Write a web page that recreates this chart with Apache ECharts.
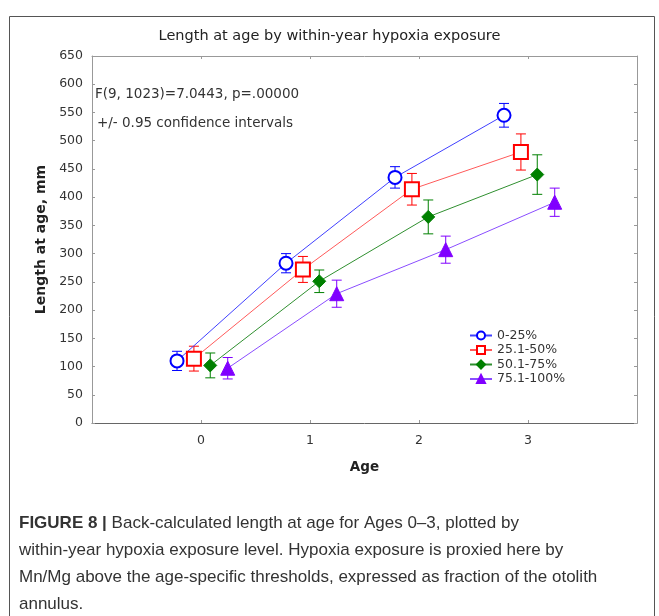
<!DOCTYPE html>
<html>
<head>
<meta charset="utf-8">
<script src="https://cdn.jsdelivr.net/npm/echarts@6/dist/echarts.min.js"></script>
<style>
html,body{margin:0;padding:0;background:#fff;}
#chart{width:659px;height:616px;}
</style>
</head>
<body>
<div id="chart"></div>
<script>
// data
const ages = [0, 1, 2, 3];
const groups = ['0-25%', '25.1-50%', '50.1-75%', '75.1-100%'];
const dodge = [-0.22, -0.065, 0.085, 0.245];
const meanLength = [
  [110, 283, 435, 545],
  [114, 272, 414, 480],
  [102, 251, 365, 440],
  [97, 229, 307, 391]
];
const ciHalf = [
  [17, 17, 19, 21],
  [22, 23, 28, 32],
  [22, 20, 30, 35],
  [19, 24, 24, 25]
];
const yTicks = [0, 650, 50];

const colors = ['#0000ff', '#ff0000', '#008000', '#8000ff'];
const lineColors = ['#4040ff', '#ff5a5a', '#2f8f2f', '#8a4dff'];
const symbols = ['emptyCircle', 'emptyRect', 'diamond', 'triangle'];
const symbolSizes = [13, 14, 13, 14];
const FONT = 'DejaVu Sans';

let chart = echarts.init(document.getElementById('chart'));

let series = [];
groups.forEach((g, i) => {
  // confidence interval whiskers
  series.push({
    name: g + ' CI',
    type: 'custom',
    silent: true,
    z: 2,
    renderItem: (params, api) => {
      let x = api.value(0);
      let top = api.coord([x, api.value(2)]);
      let bot = api.coord([x, api.value(1)]);
      let w = 5;
      let st = {stroke: colors[i], lineWidth: 1};
      return {
        type: 'group',
        children: [
          {type: 'line', shape: {x1: top[0], y1: top[1], x2: bot[0], y2: bot[1]}, style: st},
          {type: 'line', shape: {x1: top[0] - w, y1: top[1], x2: top[0] + w, y2: top[1]}, style: st},
          {type: 'line', shape: {x1: bot[0] - w, y1: bot[1], x2: bot[0] + w, y2: bot[1]}, style: st}
        ]
      };
    },
    data: ages.map((a, k) => [a + dodge[i], meanLength[i][k] - ciHalf[i][k], meanLength[i][k] + ciHalf[i][k]])
  });
  series.push({
    name: g,
    type: 'line',
    z: 3,
    symbol: symbols[i],
    symbolSize: symbolSizes[i],
    showAllSymbol: true,
    lineStyle: {color: lineColors[i], width: 1},
    itemStyle: {color: colors[i], borderColor: colors[i], borderWidth: i < 2 ? 3 : 1},
    data: ages.map((a, k) => [a + dodge[i], meanLength[i][k]])
  });
});

let axisTxt = {color: '#333', fontSize: 12.5, fontFamily: FONT};

let option = {
  animation: false,
  textStyle: {fontFamily: FONT},
  title: {
    text: 'Length at age by within-year hypoxia exposure',
    left: 'center',
    top: 24,
    textStyle: {fontSize: 14.5, fontWeight: 'normal', color: '#222', fontFamily: FONT}
  },
  legend: {
    data: groups,
    orient: 'vertical',
    left: 464,
    top: 324,
    itemWidth: 22,
    itemHeight: 10,
    itemGap: 1.5,
    textStyle: {fontSize: 12.5, color: '#333', fontFamily: FONT}
  },
  grid: {left: 92, right: 22, top: 56, bottom: 193},
  xAxis: [
    {
      type: 'value', min: -1, max: 4, interval: 1,
      name: 'Age', nameLocation: 'middle', nameGap: 37,
      nameTextStyle: {fontSize: 13.5, fontWeight: 'bold', color: '#222', fontFamily: FONT},
      axisLine: {onZero: false, lineStyle: {color: '#666'}},
      axisTick: {inside: true, length: 3, lineStyle: {color: '#999'}},
      splitLine: {show: false},
      axisLabel: Object.assign({margin: 11, formatter: v => (v < 0 || v > 3 ? '' : v)}, axisTxt)
    },
    {
      type: 'value', min: -1, max: 4, interval: 1, position: 'top',
      axisLine: {onZero: false, lineStyle: {color: '#999'}},
      axisTick: {inside: true, length: 3, lineStyle: {color: '#999'}},
      splitLine: {show: false}, axisLabel: {show: false}
    }
  ],
  yAxis: [
    {
      type: 'value', min: yTicks[0], max: yTicks[1], interval: yTicks[2],
      name: 'Length at age, mm', nameLocation: 'middle', nameGap: 44,
      nameTextStyle: {fontSize: 14, fontWeight: 'bold', color: '#222', fontFamily: FONT},
      axisLine: {show: true, onZero: false, lineStyle: {color: '#999'}},
      axisTick: {show: true, inside: true, length: 3, lineStyle: {color: '#999'}},
      splitLine: {show: false},
      axisLabel: Object.assign({margin: 9}, axisTxt)
    },
    {
      type: 'value', min: yTicks[0], max: yTicks[1], interval: yTicks[2], position: 'right',
      axisLine: {show: true, onZero: false, lineStyle: {color: '#999'}},
      axisTick: {show: true, inside: true, length: 3, lineStyle: {color: '#999'}},
      splitLine: {show: false}, axisLabel: {show: false}
    }
  ],
  graphic: [
    {
      type: 'rect', left: 7, top: 14, silent: true,
      shape: {width: 645, height: 620},
      style: {fill: 'none', stroke: '#555', lineWidth: 1}
    },
    {
      type: 'text', left: 95, top: 87,
      style: {text: 'F(9, 1023)=7.0443, p=.00000', fontSize: 13.5, fill: '#333', fontFamily: FONT}
    },
    {
      type: 'text', left: 97, top: 116,
      style: {text: '+/- 0.95 confidence intervals', fontSize: 13.5, fill: '#333', fontFamily: FONT}
    },
    {
      type: 'text', left: 19, top: 510,
      style: {
        text: '{b|FIGURE 8 |} Back-calculated length at age for Ages 0–3, plotted by\n' +
              'within-year hypoxia exposure level. Hypoxia exposure is proxied here by\n' +
              'Mn/Mg above the age-specific thresholds, expressed as fraction of the otolith\n' +
              'annulus.',
        fontSize: 17, lineHeight: 27, fill: '#333', fontFamily: 'Liberation Sans',
        rich: {b: {fontWeight: 'bold', fontSize: 17, fill: '#333', fontFamily: 'Liberation Sans'}}
      }
    }
  ],
  series: series
};

chart.setOption(option);
window.onresize = function () {
  chart.resize();
};
</script>
</body>
</html>
